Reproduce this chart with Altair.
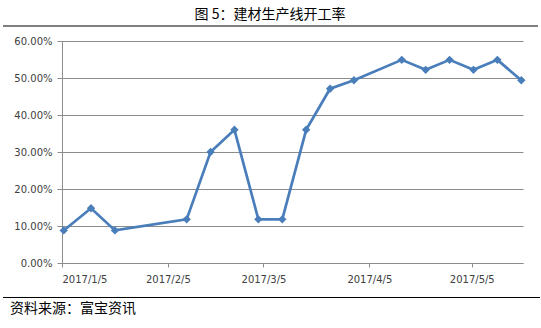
import altair as alt
import pandas as pd

# ---- data ----
dates = ["2017-01-05", "2017-01-13", "2017-01-20", "2017-02-10", "2017-02-17",
         "2017-02-24", "2017-03-03", "2017-03-10", "2017-03-17", "2017-03-24",
         "2017-03-31", "2017-04-14", "2017-04-21", "2017-04-28", "2017-05-05",
         "2017-05-12", "2017-05-19"]
rates = [8.8, 14.8, 8.8, 11.8, 30.0, 36.0, 11.8, 11.8, 36.0, 47.1,
         49.4, 54.9, 52.2, 54.9, 52.2, 54.9, 49.4]
y_ticks = [0, 0.1, 0.2, 0.3, 0.4, 0.5, 0.6]
x_tick_months = [1, 2, 3, 4, 5]
title_text = "图 5：建材生产线开工率"
source_text = "资料来源：富宝资讯"

# points sit half a day past their date (between tick marks)
df = pd.DataFrame({
    "date": [d + "T12:00:00Z" for d in dates],
    "rate": [r / 100 for r in rates],
})

W, H = 461, 222
PAD_L, PAD_T = 62, 41

x_enc = alt.X(
    "date:T",
    scale=alt.Scale(
        type="utc",
        domain=[alt.DateTime(year=2017, month=1, date=5, utc=True),
                alt.DateTime(year=2017, month=5, date=20, utc=True)],
    ),
    axis=alt.Axis(
        values=[alt.DateTime(year=2017, month=m, date=5, utc=True) for m in x_tick_months],
        labelExpr="utcFormat(datum.value, '%Y') + '/' + (utcmonth(datum.value) + 1) + '/' + utcdate(datum.value)",
        title=None,
        grid=False,
        tickSize=4,
        labelPadding=7,
        labelOverlap=False,
        domainColor="#8c8c8c",
        tickColor="#8c8c8c",
        labelFont="DejaVu Sans",
        labelFontSize=10,
        labelColor="#404040",
    ),
)
y_enc = alt.Y(
    "rate:Q",
    scale=alt.Scale(domain=[0, 0.6], nice=False),
    axis=alt.Axis(
        values=y_ticks,
        format=".2%",
        title=None,
        grid=True,
        gridColor="#8c8c8c",
        gridWidth=1,
        tickSize=5,
        labelPadding=5,
        labelOverlap=False,
        domainColor="#8c8c8c",
        tickColor="#8c8c8c",
        labelFont="DejaVu Sans",
        labelFontSize=10,
        labelColor="#404040",
    ),
)

base = alt.Chart(df).encode(x=x_enc, y=y_enc)
line = base.mark_line(color="#4a7ebb", strokeWidth=2.7)
pts = base.mark_point(shape="diamond", filled=True, size=70, opacity=1, color="#4a7ebb")

title = alt.Chart(pd.DataFrame({"t": [title_text]})).mark_text(
    font="Noto Sans CJK SC", fontSize=14, color="#000000", align="center", baseline="middle"
).encode(text="t:N", x=alt.value(270 - PAD_L), y=alt.value(15 - PAD_T))

src = alt.Chart(pd.DataFrame({"t": [source_text]})).mark_text(
    font="Noto Sans CJK SC", fontSize=14, color="#000000", align="left", baseline="middle"
).encode(text="t:N", x=alt.value(10 - PAD_L), y=alt.value(309 - PAD_T))

rule_top = alt.Chart(pd.DataFrame({"a": [0]})).mark_rule(color="#000000", strokeWidth=1.2).encode(
    x=alt.value(3 - PAD_L), x2=alt.value(538 - PAD_L), y=alt.value(26 - PAD_T))
rule_bot = alt.Chart(pd.DataFrame({"a": [0]})).mark_rule(color="#000000", strokeWidth=1.2).encode(
    x=alt.value(3 - PAD_L), x2=alt.value(540 - PAD_L), y=alt.value(297.5 - PAD_T))

chart = alt.layer(line, pts, title, src, rule_top, rule_bot).properties(
    width=W, height=H,
    autosize=alt.AutoSizeParams(type="none"),
    padding={"left": PAD_L, "top": PAD_T, "right": 541 - PAD_L - W, "bottom": 328 - PAD_T - H},
    background="white",
).configure_view(stroke=None)

chart.save("out.html", embed_options={"renderer": "svg", "actions": False})
